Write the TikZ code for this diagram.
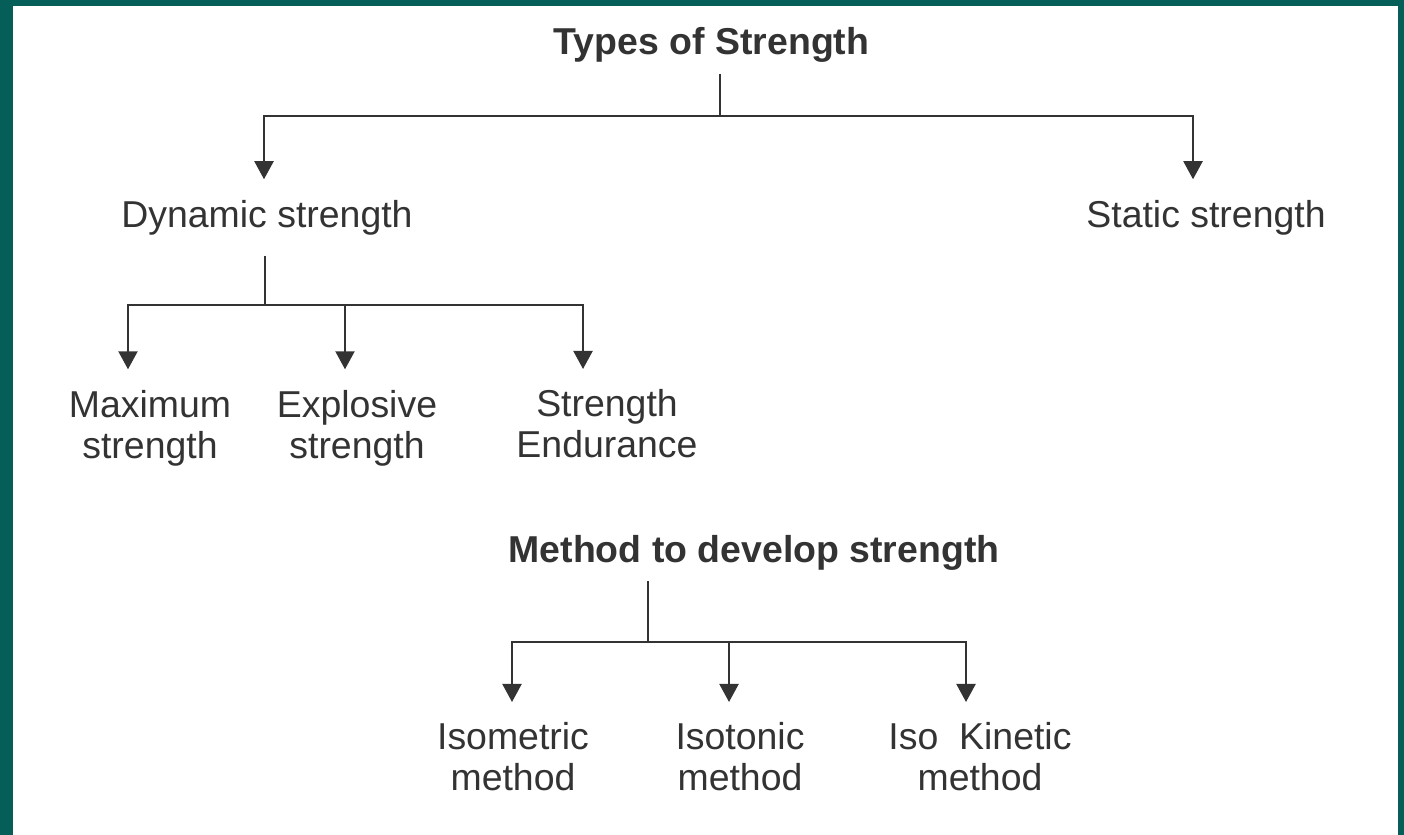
\documentclass[tikz,border=0pt]{standalone}
\usepackage{fontspec}
\setmainfont{Liberation Sans}
\usetikzlibrary{arrows.meta}
\definecolor{frame}{HTML}{065E58}
\definecolor{ink}{HTML}{333333}
\begin{document}
\begin{tikzpicture}[
  txt/.style={inner xsep=0.05cm, inner ysep=0.2cm, align=center, text=ink, font=\fontsize{10.65pt}{11.7pt}\selectfont},
  head/.style={txt, inner ysep=0.1cm, font=\fontsize{10.65pt}{11.7pt}\selectfont\bfseries},
  link/.style={draw=ink, line width=0.6pt},
  arr/.style={link, -{Triangle[width=0.19cm,length=0.18cm]}}]
\path[fill=frame] (0,0) rectangle (14.04,-8.35);
\path[fill=white] (0.13,-0.06) rectangle (13.98,-8.35);

\node[head] (types) at (7.115,-0.454) {Types of Strength};
\node[txt] (dyn) at (2.67,-2.174) {Dynamic strength};
\node[txt] (stat) at (12.06,-2.174) {Static strength};
\node[txt] (max) at (1.50,-4.28) {Maximum\\strength};
\node[txt] (expl) at (3.57,-4.28) {Explosive\\strength};
\node[txt] (endu) at (6.07,-4.24) {Strength\\Endurance};

\node[head] (meth) at (7.54,-5.53) {Method to develop strength};
\node[txt] (isom) at (5.13,-7.57) {Isometric\\method};
\node[txt] (isot) at (7.40,-7.57) {Isotonic\\method};
\node[txt] (isok) at (9.80,-7.57) {Iso~~Kinetic\\method};

\coordinate (tj) at (7.20,-1.16);
\path[link] (types.south -| tj) -- (tj);
\path[arr] (tj) -| ([xshift=-0.03cm]dyn.north);
\path[arr] (tj) -| ([xshift=-0.13cm]stat.north);

\coordinate (dj) at (2.65,-3.05);
\path[link] (dyn.south -| dj) -- (dj);
\path[arr] (dj) -| ([xshift=-0.22cm]max.north);
\path[arr] (dj) -| ([xshift=-0.12cm]expl.north);
\path[arr] (dj) -| ([xshift=-0.24cm]endu.north);

\coordinate (mj) at (6.48,-6.42);
\path[link] (meth.south -| mj) -- (mj);
\path[arr] (mj) -| ([xshift=-0.01cm]isom.north);
\path[arr] (mj) -| ([xshift=-0.11cm]isot.north);
\path[arr] (mj) -| ([xshift=-0.14cm]isok.north);
\end{tikzpicture}
\end{document}
